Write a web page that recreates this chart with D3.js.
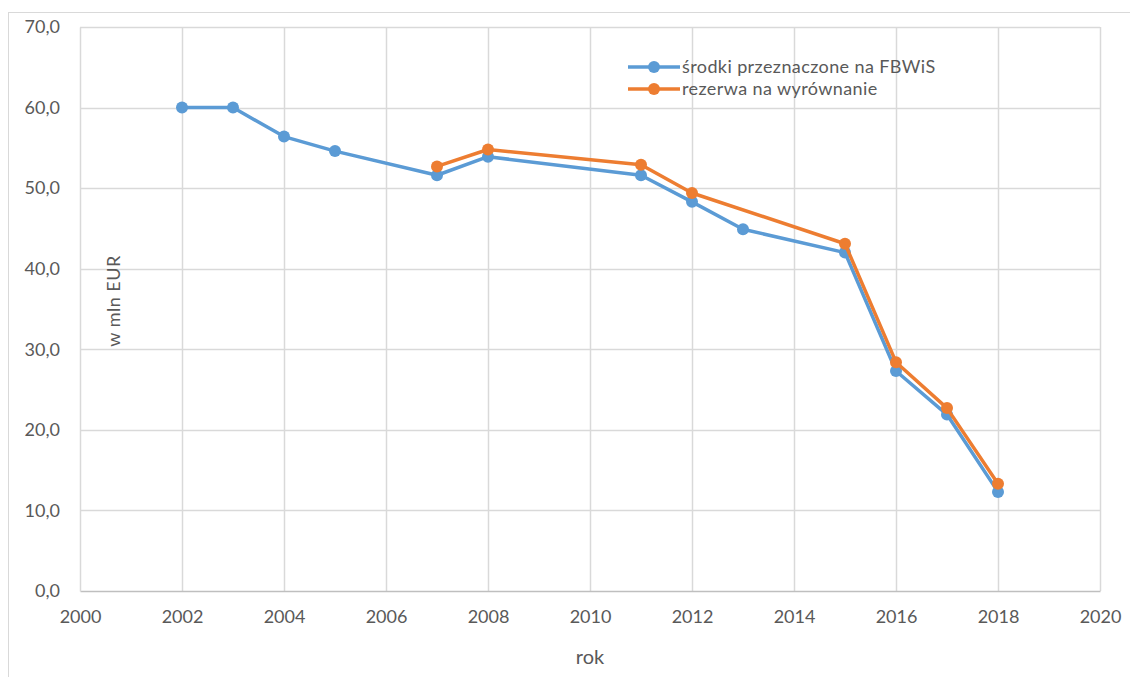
<!DOCTYPE html>
<html>
  <head>
    <meta charset="utf-8">
    <title>FBWiS</title>
    <style>
      body { margin: 0; background-color: white; }
      svg { display: block; font-family: Lato, "Open Sans", sans-serif; }
      .tick text { fill: #595959; font-size: 18px; }
      .label { fill: #595959; font-size: 20px; }
      .legendText { fill: #595959; font-size: 18px; letter-spacing: 0.4px; }
    </style>
  </head>
  <body>
  <svg id="chart"></svg>
  <script src="https://d3js.org/d3.v7.min.js"></script>
  <script>
    var years = [2002, 2003, 2004, 2005, 2007, 2008, 2011, 2012, 2013, 2015, 2016, 2017, 2018];
    var srodki = [60.0, 60.0, 56.4, 54.6, 51.6, 53.9, 51.6, 48.3, 44.9, 42.0, 27.3, 21.9, 12.3];
    var rezerwaYears = [2007, 2008, 2011, 2012, 2015, 2016, 2017, 2018];
    var rezerwa = [52.7, 54.8, 52.9, 49.4, 43.1, 28.4, 22.7, 13.3];
    var xTicks = [2000, 2002, 2004, 2006, 2008, 2010, 2012, 2014, 2016, 2018, 2020];
    var yTicks = [0, 10, 20, 30, 40, 50, 60, 70];
    var seriesNames = ["środki przeznaczone na FBWiS", "rezerwa na wyrównanie"];
    var colors = ["#5b9bd5", "#ed7d31"];

    var W = 1130, H = 677;
    var svg = d3.select("#chart").attr("width", W).attr("height", H);

    // outer chart frame
    svg.append("rect")
      .attr("x", 8.5).attr("y", 12.5)
      .attr("width", W + 10).attr("height", H + 10)
      .attr("fill", "none").attr("stroke", "#d9d9d9");

    var x = d3.scaleLinear().domain([2000, 2020]).range([80, 1100]);
    var y = d3.scaleLinear().domain([0, 70]).range([591, 27]);

    // gridlines
    svg.append("g").selectAll("line")
      .data(yTicks.slice(1)).enter().append("line")
      .attr("x1", x(2000)).attr("x2", x(2020))
      .attr("y1", function(d) { return Math.round(y(d)) + 0.5; })
      .attr("y2", function(d) { return Math.round(y(d)) + 0.5; })
      .attr("stroke", "#d9d9d9").attr("stroke-width", 1.5);

    svg.append("g").selectAll("line")
      .data(xTicks.slice(1)).enter().append("line")
      .attr("y1", y(0)).attr("y2", y(70))
      .attr("x1", function(d) { return Math.round(x(d)) + 0.5; })
      .attr("x2", function(d) { return Math.round(x(d)) + 0.5; })
      .attr("stroke", "#d9d9d9").attr("stroke-width", 1.5);

    // axes
    var xAxis = d3.axisBottom(x).tickValues(xTicks).tickFormat(d3.format("d")).tickSize(0).tickPadding(19);
    var gx = svg.append("g").attr("transform", "translate(0," + y(0) + ")").call(xAxis);
    gx.select(".domain").attr("stroke", "#bfbfbf").attr("stroke-width", 1.5);

    var yAxis = d3.axisLeft(y).tickValues(yTicks)
      .tickFormat(function(d) { return d3.format(".1f")(d).replace(".", ","); })
      .tickSize(0).tickPadding(20);
    var gy = svg.append("g").attr("transform", "translate(" + x(2000) + ",0)").call(yAxis);
    gy.select(".domain").attr("stroke", "#d9d9d9").attr("stroke-width", 1.5);
    svg.selectAll(".tick text").style("font-family", "Lato, 'Open Sans', sans-serif");

    // axis titles
    svg.append("text").attr("class", "label")
      .attr("x", 590).attr("y", 664)
      .attr("text-anchor", "middle").text("rok");

    svg.append("text").attr("class", "label")
      .attr("transform", "translate(120,301) rotate(-90)")
      .attr("text-anchor", "middle").style("font-size", "18px").style("letter-spacing", "0.5px")
      .text("w mln EUR");

    // series
    var line = d3.line()
      .x(function(d) { return x(d[0]); })
      .y(function(d) { return y(d[1]); });

    var series = [
      d3.zip(years, srodki),
      d3.zip(rezerwaYears, rezerwa)
    ];

    series.forEach(function(data, i) {
      var g = svg.append("g");
      g.append("path").datum(data)
        .attr("d", line)
        .attr("fill", "none")
        .attr("stroke", colors[i])
        .attr("stroke-width", 3.5)
        .attr("stroke-linejoin", "round");
      g.selectAll("circle").data(data).enter().append("circle")
        .attr("cx", function(d) { return x(d[0]); })
        .attr("cy", function(d) { return y(d[1]); })
        .attr("r", 6)
        .attr("fill", colors[i]);
    });

    // legend
    var legend = svg.append("g").attr("transform", "translate(628,67)");
    seriesNames.forEach(function(name, i) {
      var row = legend.append("g").attr("transform", "translate(0," + (i * 22) + ")");
      row.append("line").attr("x1", 0).attr("x2", 52).attr("y1", 0).attr("y2", 0)
        .attr("stroke", colors[i]).attr("stroke-width", 3.5);
      row.append("circle").attr("cx", 26).attr("cy", 0).attr("r", 6).attr("fill", colors[i]);
      row.append("text").attr("class", "legendText")
        .attr("x", 54).attr("y", 6).text(name);
    });
  </script>
  </body>
</html>
